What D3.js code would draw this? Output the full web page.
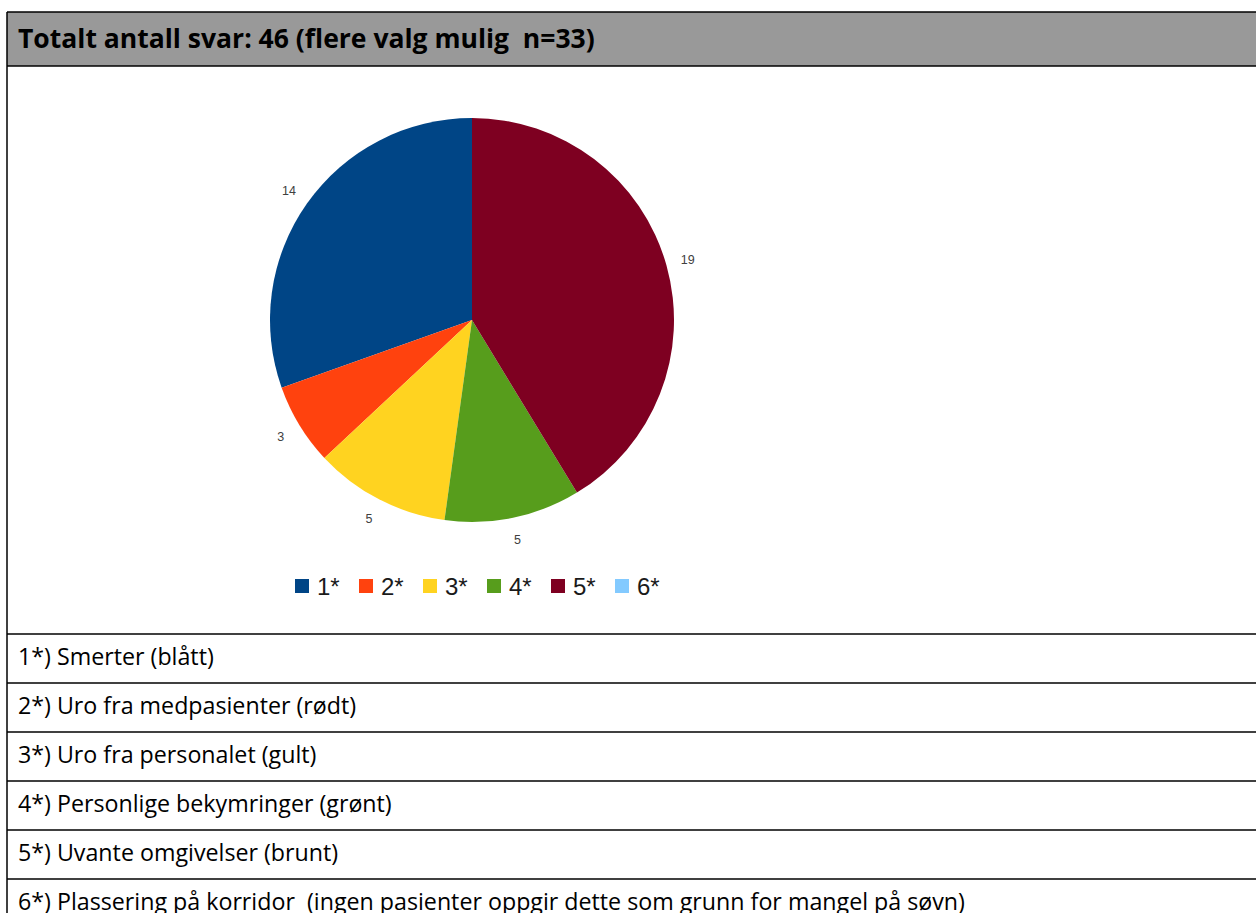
<!DOCTYPE html>
<html>
<head>
<meta charset="utf-8">
<script src="https://cdn.jsdelivr.net/npm/d3@7"></script>
<style>
  html, body { margin: 0; padding: 0; background: #fff; }
  text { white-space: pre; }
</style>
</head>
<body>
<svg id="chart" width="1256" height="913"></svg>
<script>
// chart data
const categories = ["1*", "2*", "3*", "4*", "5*", "6*"];
const counts = [14, 3, 5, 5, 19, 0];
const colors = ["#004586", "#ff420e", "#ffd320", "#579d1c", "#7e0021", "#83caff"];
const title = "Totalt antall svar: 46 (flere valg mulig  n=33)";
const rowLabels = [
    "1*) Smerter (blått)",
    "2*) Uro fra medpasienter (rødt)",
    "3*) Uro fra personalet (gult)",
    "4*) Personlige bekymringer (grønt)",
    "5*) Uvante omgivelser (brunt)",
    "6*) Plassering på korridor  (ingen pasienter oppgir dette som grunn for mangel på søvn)"
];

const svg = d3.select("#chart");
const left = 7, right = 1260;
const font = "'Open Sans', Lato, sans-serif";

// shrink/grow a text's font size so it spans a given width
function fitWidth(sel, target) {
    const w = sel.node().getComputedTextLength();
    const fs = +sel.attr("font-size");
    return fs * target / w;
}

// header band
svg.append("rect")
    .attr("x", left).attr("y", 12)
    .attr("width", right - left).attr("height", 54)
    .attr("fill", "#999999");

const head = svg.append("text")
    .attr("x", 18).attr("y", 48)
    .attr("font-family", font)
    .attr("font-weight", "bold")
    .attr("font-size", 22)
    .attr("fill", "#000")
    .text(title);
head.attr("font-size", fitWidth(head, 577));

// table rows
const rowTop = 634, rowH = 49;
const rows = d3.range(rowLabels.length);

const labels = svg.selectAll(".row-label").data(rowLabels).join("text")
    .attr("class", "row-label")
    .attr("x", 18)
    .attr("y", (d, i) => rowTop + i * rowH + 31)
    .attr("font-family", font)
    .attr("font-size", 20)
    .attr("fill", "#000")
    .text(d => d);
const rowFs = fitWidth(d3.select(labels.nodes()[5]), 947);
labels.attr("font-size", rowFs);

// grid lines
const hLines = [12, 66].concat(rows.map(i => rowTop + i * rowH));
svg.selectAll(".hline").data(hLines).join("line")
    .attr("class", "hline")
    .attr("x1", left).attr("x2", right)
    .attr("y1", d => d).attr("y2", d => d)
    .attr("stroke", "#000").attr("stroke-width", 1.5);

svg.append("line")
    .attr("x1", left).attr("x2", left)
    .attr("y1", 12).attr("y2", 913)
    .attr("stroke", "#000").attr("stroke-width", 1.5);

// pie
const cx = 472, cy = 320, radius = 202, labelR = 224;

const pie = d3.pie()
    .sort(null)
    .value(d => d)
    .startAngle(0)
    .endAngle(-2 * Math.PI);

const arcs = pie(counts);
const arc = d3.arc().innerRadius(0).outerRadius(radius);

const g = svg.append("g").attr("transform", `translate(${cx},${cy})`);

g.selectAll("path").data(arcs.filter(d => d.value > 0)).join("path")
    .attr("d", arc)
    .attr("fill", d => colors[d.index]);

g.selectAll(".pie-label").data(arcs.filter(d => d.value > 0)).join("text")
    .attr("class", "pie-label")
    .attr("x", d => labelR * Math.sin((d.startAngle + d.endAngle) / 2))
    .attr("y", d => -labelR * Math.cos((d.startAngle + d.endAngle) / 2))
    .attr("dy", "0.35em")
    .attr("text-anchor", "middle")
    .attr("font-family", "'Liberation Sans', Arial, sans-serif")
    .attr("font-size", 12.5)
    .attr("fill", "#404040")
    .text(d => d.value);

// legend
const legendX = d3.scalePoint().domain(categories).range([295, 615]);
const lg = svg.selectAll(".legend").data(categories).join("g")
    .attr("class", "legend")
    .attr("transform", d => `translate(${legendX(d)},586)`);

lg.append("rect")
    .attr("x", 0).attr("y", -7)
    .attr("width", 14).attr("height", 14)
    .attr("fill", (d, i) => colors[i]);

lg.append("text")
    .attr("x", 22).attr("y", 0)
    .attr("dy", "0.36em")
    .attr("font-family", "'Liberation Sans', Arial, sans-serif")
    .attr("font-size", 24)
    .attr("fill", "#1a1a1a")
    .text(d => d);
</script>
</body>
</html>
